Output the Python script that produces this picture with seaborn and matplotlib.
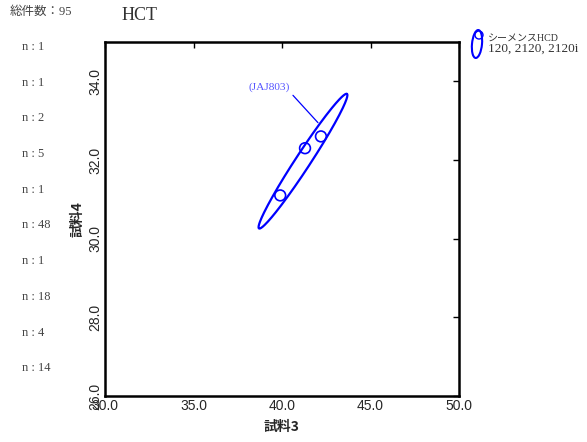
import numpy as np
import pandas as pd
import matplotlib
matplotlib.use("Agg")
import matplotlib.pyplot as plt
from matplotlib.patches import Ellipse
import seaborn as sns

# ---- data ----
sample3 = [39.9, 41.3, 42.2]
sample4 = [31.1, 32.3, 32.6]
ell_p1 = (38.7, 30.26)   # major axis ends (data)
ell_p2 = (43.67, 33.68)
ell_minor = 0.021        # semi-minor axis, axes fraction
n_counts = [1, 1, 2, 5, 1, 48, 1, 18, 4, 14]
total = 95
xticks = [30.0, 35.0, 40.0, 45.0, 50.0]
yticks = [26.0, 28.0, 30.0, 32.0, 34.0]
xlim = (30, 50)
ylim = (26, 35)
title = "HCT"
label_text = "(JAJ803)"
label_pos = (40.45, 33.85)
label_target = (42.03, 32.95)
legend_line1 = "シーメンスHCD"
legend_line2 = "120, 2120, 2120i"

sns.set_style("white")
serif = ["Liberation Serif", "Noto Sans CJK JP"]
sans = ["Liberation Sans", "Noto Sans CJK JP"]
plt.rcParams["font.family"] = sans
blue = "#0000ff"

fig = plt.figure(figsize=(5.87, 4.42), dpi=100)
ax = fig.add_axes([105 / 587, 1 - 396 / 442, 354 / 587, 354 / 442])

df = pd.DataFrame({"x": sample3, "y": sample4})
sns.scatterplot(data=df, x="x", y="y", ax=ax, marker="o", s=60,
                facecolors="none", edgecolor=blue, linewidth=1.2, zorder=3)

# ellipse built in axes-fraction space, then mapped back to data
def to_frac(p):
    return np.array([(p[0] - xlim[0]) / (xlim[1] - xlim[0]),
                     (p[1] - ylim[0]) / (ylim[1] - ylim[0])])

a, b = to_frac(ell_p1), to_frac(ell_p2)
c = (a + b) / 2
u = (b - a) / 2
v = np.array([-u[1], u[0]]) / np.linalg.norm(u) * ell_minor
t = np.linspace(0, 2 * np.pi, 200)
pts = c[None, :] + np.cos(t)[:, None] * u + np.sin(t)[:, None] * v
ex = xlim[0] + pts[:, 0] * (xlim[1] - xlim[0])
ey = ylim[0] + pts[:, 1] * (ylim[1] - ylim[0])
ax.plot(ex, ey, color=blue, lw=1.6, zorder=2)

# label with leader line
ax.annotate(label_text, xy=label_target, xytext=label_pos, color="#5555ff",
            fontsize=8.2, family=serif, ha="right", va="center",
            arrowprops=dict(arrowstyle="-", color=blue, lw=0.9,
                            shrinkA=0, shrinkB=0, relpos=(1, 0)))

ax.set_xlim(*xlim)
ax.set_ylim(*ylim)
ax.set_xticks(xticks)
ax.set_yticks(yticks)
ax.set_xticklabels([f"{v:.1f}" for v in xticks], fontsize=10)
ax.set_yticklabels([f"{v:.1f}" for v in yticks], fontsize=10,
                   rotation=90, va="center")
ax.tick_params(direction="in", length=4, width=1, top=True, right=True,
               color="black", pad=2)
for s in ax.spines.values():
    s.set_linewidth(1.8)
    s.set_color("black")
ax.set_xlabel("試料3", fontsize=10, fontweight="bold", labelpad=5,
              family=["Noto Sans CJK JP"])
ax.set_ylabel("試料4", fontsize=10, fontweight="bold",
              family=["Noto Sans CJK JP"])
ax.yaxis.set_label_coords(-0.057, 0.5)

# header texts
fig.text(10 / 587, 1 - 12 / 442, f"総件数：{total}", fontsize=9,
         family=serif, color="#444444", va="center")
fig.text(122 / 587, 1 - 16 / 442, title, fontsize=13, family=serif,
         color="#333333", va="center")
for i, n in enumerate(n_counts):
    fig.text(22 / 587, 1 - (47 + i * 35.7) / 442, f"n : {n}", fontsize=9,
             family=serif, color="#444444", va="center")

# legend icon and text
fig.patches.append(Ellipse((477 / 587, 1 - 44 / 442), 10 / 587, 28 / 442,
                           angle=-4, fill=False, edgecolor=blue, lw=1.5,
                           transform=fig.transFigure))
fig.patches.append(Ellipse((479 / 587, 1 - 35 / 442), 8 / 587, 8 / 442,
                           fill=False, edgecolor=blue, lw=1.0,
                           transform=fig.transFigure))
fig.text(488 / 587, 1 - 38 / 442, legend_line1, fontsize=7.2, family=serif,
         color="#333333", va="center")
fig.text(488 / 587, 1 - 49 / 442, legend_line2, fontsize=9.5, family=serif,
         color="#333333", va="center")

fig.savefig("out.png", dpi=100)
